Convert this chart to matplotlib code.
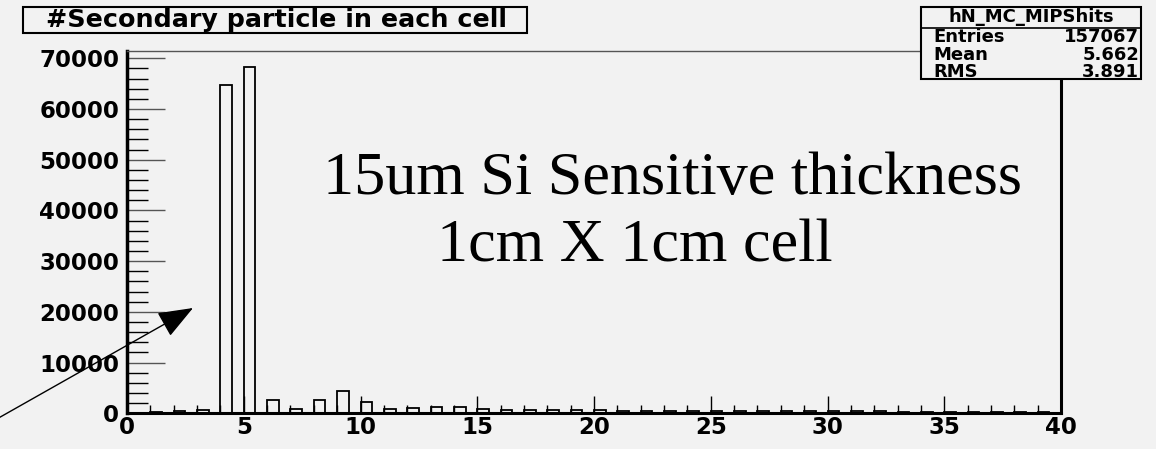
"""ROOT-style histogram: secondary particles per cell."""

import matplotlib

matplotlib.use("Agg")
import matplotlib.pyplot as plt
from matplotlib.font_manager import FontProperties
from matplotlib.patches import Rectangle
from matplotlib.ticker import MultipleLocator

# histogram contents, bins [n, n+1) for n = 0..39
bin_low = list(range(40))
counts = [
    0, 250, 450, 650, 64700, 68300, 2700, 750, 2600, 4400,
    2300, 900, 1000, 1300, 1300, 800, 700, 650, 650, 600,
    600, 550, 550, 500, 500, 500, 450, 450, 450, 400,
    400, 400, 400, 350, 350, 350, 350, 350, 350, 350,
]
title = "#Secondary particle in each cell"
hist_name = "hN_MC_MIPShits"
stat_names = ["Entries", "Mean", "RMS"]
stat_values = ["157067", "5.662", "3.891"]
note_lines = ["15um Si Sensitive thickness", "1cm X 1cm cell"]

BG = "#f2f2f2"
W, H = 1156, 449

fig = plt.figure(figsize=(W / 100, H / 100), dpi=100, facecolor=BG)
ax = fig.add_axes([127 / W, 1 - 413.3 / H, (1061 - 127) / W, (413.3 - 51) / H])
ax.set_facecolor(BG)

ax.bar(bin_low, counts, width=0.5, align="edge", facecolor="none",
       edgecolor="black", linewidth=1.3, zorder=3)

ax.set_xlim(0, 40)
ax.set_ylim(0, 71450)
ax.xaxis.set_major_locator(MultipleLocator(5))
ax.xaxis.set_minor_locator(MultipleLocator(1))
ax.yaxis.set_major_locator(MultipleLocator(10000))
ax.yaxis.set_minor_locator(MultipleLocator(2000))

ax.tick_params(axis="y", which="major", direction="in", length=27, width=1,
               color="#555555", pad=5.5)
ax.tick_params(axis="y", which="minor", direction="in", length=15, width=1,
               color="black")
ax.tick_params(axis="x", which="major", direction="in", length=12, width=1,
               color="black", pad=2)
ax.tick_params(axis="x", which="minor", direction="in", length=6, width=1,
               color="black")
tick_fp = FontProperties(family="DejaVu Sans", weight="bold", size=16.5)
for lab in ax.get_xticklabels() + ax.get_yticklabels():
    lab.set_fontproperties(tick_fp)

for side, lw, col in [("left", 2.5, "black"), ("bottom", 2.2, "black"),
                      ("right", 2.2, "black"), ("top", 1.0, "#555555")]:
    ax.spines[side].set_linewidth(lw)
    ax.spines[side].set_color(col)


def px(x, y):
    """pixel position (top-left origin) -> figure fraction"""
    return x / W, 1 - y / H


# title box
x0, y0 = px(23, 33)
fig.patches.append(Rectangle((x0, y0), (527 - 23) / W, (33 - 7) / H,
                             transform=fig.transFigure, facecolor=BG,
                             edgecolor="black", linewidth=1.5))
fig.text(*px(46, 20.5), title, ha="left", va="center", family="DejaVu Sans",
         weight="bold", fontsize=18.3)

# stats box
sx0, sy0 = px(921, 79)
fig.patches.append(Rectangle((sx0, sy0), (1141 - 921) / W, (79 - 7) / H,
                             transform=fig.transFigure, facecolor=BG,
                             edgecolor="black", linewidth=1.5, zorder=5))
fig.add_artist(plt.Line2D([921 / W, 1141 / W], [1 - 28 / H, 1 - 28 / H],
                          transform=fig.transFigure, color="black", lw=1.2,
                          zorder=6))
stat_font = dict(family="DejaVu Sans", weight="bold", fontsize=13, zorder=7)
fig.text(*px(1031, 17.5), hist_name, ha="center", va="center", **stat_font)
for i, (name, val) in enumerate(zip(stat_names, stat_values)):
    yy = 37 + i * 17.5
    fig.text(*px(933, yy), name, ha="left", va="center", **stat_font)
    fig.text(*px(1139, yy), val, ha="right", va="center", **stat_font)

# annotation text
fig.text(*px(323, 194), note_lines[0], ha="left", va="baseline",
         family="Liberation Serif", fontsize=44.8)
fig.text(*px(437, 262), note_lines[1], ha="left", va="baseline",
         family="Liberation Serif", fontsize=44.8)

# arrow from the lower-left corner towards the low bins
ax.annotate("", xy=(193, H - 308), xytext=(-5, H - 420),
            xycoords="figure pixels", textcoords="figure pixels",
            arrowprops=dict(arrowstyle="-|>,head_length=2.2,head_width=0.85",
                            mutation_scale=10, color="black", lw=1,
                            shrinkA=0, shrinkB=0),
            annotation_clip=False)

fig.savefig("out.png", dpi=100, facecolor=BG)
plt.close(fig)
